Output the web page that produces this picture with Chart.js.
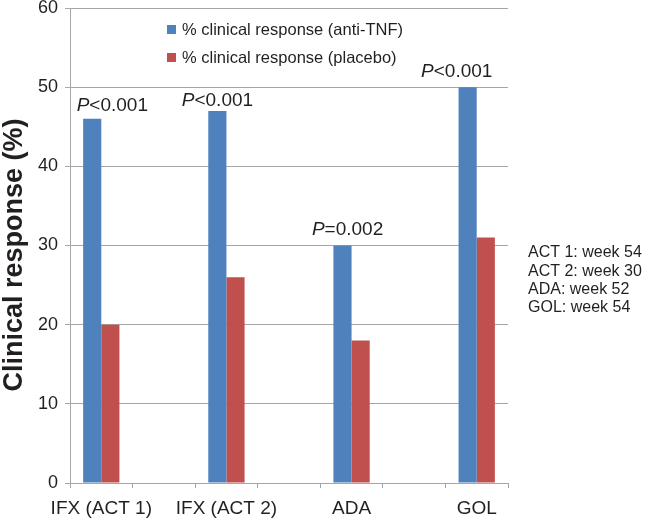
<!DOCTYPE html>
<html>
<head>
<meta charset="utf-8">
<script src="https://cdn.jsdelivr.net/npm/chart.js@4"></script>
<style>
  html, body { margin: 0; padding: 0; background: #fff; }
</style>
</head>
<body>
<canvas id="responseChart" width="645" height="519"></canvas>
<script>
const drugs = ['IFX (ACT 1)', 'IFX (ACT 2)', 'ADA', 'GOL'];
const antiTNF = [46, 47, 30, 50];
const placebo = [20, 26, 18, 31];
const pValues = ['<0.001', '<0.001', '=0.002', '<0.001'];
const studyWeeks = ['ACT 1: week 54', 'ACT 2: week 30', 'ADA: week 52', 'GOL: week 54'];
const legendLabels = ['% clinical response (anti-TNF)', '% clinical response (placebo)'];
const yTitle = 'Clinical response (%)';

const blue = '#4f81bd';
const red = '#c0504d';
const gridColor = '#a6a6a6';
const textColor = '#231f20';
const fontFamily = '"Liberation Sans", Arial, sans-serif';

// empty slot between every drug, as in the original sheet
const labels = [];
const tnfData = [];
const placeboData = [];
drugs.forEach((d, i) => {
    if (i > 0) { labels.push(''); tnfData.push(null); placeboData.push(null); }
    labels.push(d);
    tnfData.push(antiTNF[i]);
    placeboData.push(placebo[i]);
});

const annotations = {
    id: 'annotations',
    afterDraw(chart) {
        const ctx = chart.ctx;
        const x = chart.scales.x;
        const y = chart.scales.y;
        ctx.save();
        ctx.fillStyle = textColor;
        ctx.textBaseline = 'alphabetic';

        // p-values above the bars
        const pShift = [11, -9, -4, -20];
        const pLift = [8, 5, 11, 10];
        drugs.forEach((d, i) => {
            const cx = x.getPixelForValue(i * 2) + pShift[i];
            const cy = y.getPixelForValue(antiTNF[i]) - pLift[i];
            ctx.font = 'italic 19px ' + fontFamily;
            const pw = ctx.measureText('P').width;
            ctx.font = '19px ' + fontFamily;
            const rw = ctx.measureText(pValues[i]).width;
            const left = cx - (pw + rw) / 2;
            ctx.textAlign = 'left';
            ctx.font = 'italic 19px ' + fontFamily;
            ctx.fillText('P', left, cy);
            ctx.font = '19px ' + fontFamily;
            ctx.fillText(pValues[i], left + pw, cy);
        });

        // legend inside the plot
        ctx.font = '16.5px ' + fontFamily;
        ctx.textBaseline = 'middle';
        [blue, red].forEach((c, i) => {
            const ly = 29 + i * 28;
            ctx.fillStyle = c;
            ctx.fillRect(167, ly - 4, 9, 9);
            ctx.fillStyle = textColor;
            ctx.fillText(legendLabels[i], 182, ly + 1);
        });

        // study weeks note on the right
        ctx.font = '16px ' + fontFamily;
        studyWeeks.forEach((t, i) => {
            ctx.fillText(t, 528, 253 + i * 18.3);
        });

        // y axis title
        ctx.translate(15, 255);
        ctx.rotate(-Math.PI / 2);
        ctx.textAlign = 'center';
        ctx.font = 'bold 27px ' + fontFamily;
        ctx.fillText(yTitle, 0, 0);
        ctx.restore();
    }
};

new Chart(
    document.getElementById('responseChart'),
    {
        type: 'bar',
        data: {
            labels: labels,
            datasets: [
                { label: legendLabels[0], data: tnfData, backgroundColor: blue },
                { label: legendLabels[1], data: placeboData, backgroundColor: red }
            ]
        },
        options: {
            responsive: false,
            animation: false,
            devicePixelRatio: 1,
            layout: { padding: { left: 0, right: 137, top: 8, bottom: 0 } },
            datasets: { bar: { categoryPercentage: 0.58, barPercentage: 1.0 } },
            plugins: { legend: { display: false }, tooltip: { enabled: false } },
            scales: {
                x: {
                    grid: { display: true, drawOnChartArea: false, color: gridColor, tickLength: 5, offset: true },
                    border: { color: gridColor },
                    ticks: { color: textColor, font: { family: fontFamily, size: 19 }, padding: 9, maxRotation: 0, autoSkip: false },
                    afterFit(scale) { scale.height = 36; }
                },
                y: {
                    min: 0, max: 60,
                    ticks: { stepSize: 10, color: textColor, font: { family: fontFamily, size: 18 }, padding: 7 },
                    grid: { color: gridColor, tickLength: 5 },
                    border: { color: gridColor },
                    afterFit(scale) {
                        scale.width = 70;
                        scale.paddingTop = 0;
                        scale.paddingBottom = 0;
                    }
                }
            }
        },
        plugins: [annotations]
    }
);
</script>
</body>
</html>
